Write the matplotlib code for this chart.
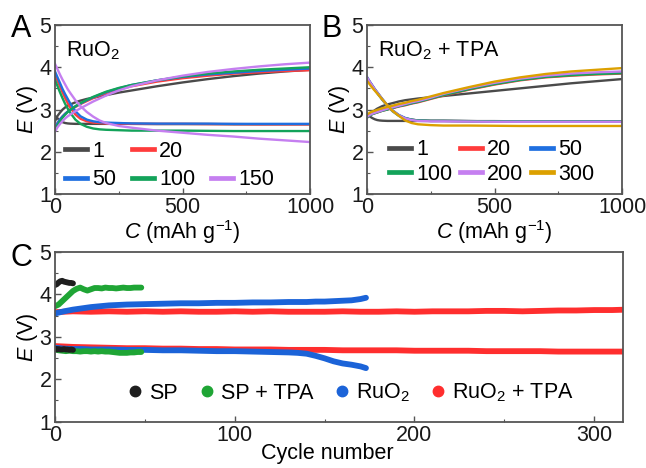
import matplotlib
matplotlib.use("Agg")
import matplotlib.pyplot as plt
from matplotlib.lines import Line2D
from matplotlib.ticker import MultipleLocator

plt.rcParams['font.family'] = ['Liberation Sans', 'DejaVu Sans']
plt.rcParams['mathtext.fontset'] = 'custom'
plt.rcParams['mathtext.rm'] = 'Liberation Sans'
plt.rcParams['mathtext.it'] = 'Liberation Sans:italic'

# ---------------- data ----------------
cap = [0, 10, 20, 30, 40, 50, 60, 80, 100, 125, 150, 175, 200, 250, 300, 400, 500, 600, 700, 800, 900, 1000]

# Panel A (RuO2): discharge and charge curves per cycle
A_labels = ['1', '20', '50', '100', '150']
A_dis = {
    '1':   [2.85, 2.79, 2.74, 2.70, 2.68, 2.67, 2.665, 2.66, 2.66, 2.66, 2.66, 2.66, 2.66, 2.66, 2.66, 2.655, 2.655, 2.655, 2.65, 2.65, 2.65, 2.65],
    '20':  [3.82, 3.68, 3.54, 3.40, 3.27, 3.15, 3.04, 2.88, 2.78, 2.72, 2.69, 2.68, 2.67, 2.665, 2.66, 2.66, 2.66, 2.655, 2.655, 2.65, 2.65, 2.65],
    '50':  [3.90, 3.76, 3.62, 3.48, 3.36, 3.25, 3.14, 2.96, 2.84, 2.76, 2.72, 2.70, 2.69, 2.68, 2.67, 2.665, 2.665, 2.665, 2.66, 2.66, 2.66, 2.66],
    '100': [3.70, 3.55, 3.40, 3.26, 3.13, 3.02, 2.92, 2.76, 2.66, 2.59, 2.55, 2.53, 2.52, 2.51, 2.50, 2.50, 2.50, 2.495, 2.49, 2.49, 2.49, 2.49],
    '150': [4.08, 3.95, 3.82, 3.70, 3.59, 3.48, 3.39, 3.22, 3.08, 2.94, 2.83, 2.74, 2.68, 2.61, 2.57, 2.50, 2.45, 2.40, 2.36, 2.31, 2.27, 2.23],
}
A_chg = {
    '1':   [2.72, 2.85, 2.93, 3.00, 3.05, 3.09, 3.12, 3.17, 3.21, 3.25, 3.28, 3.31, 3.34, 3.40, 3.45, 3.55, 3.64, 3.72, 3.79, 3.85, 3.90, 3.94],
    '20':  [2.55, 2.68, 2.77, 2.84, 2.90, 2.95, 2.99, 3.06, 3.13, 3.20, 3.27, 3.33, 3.39, 3.48, 3.55, 3.66, 3.74, 3.80, 3.85, 3.88, 3.91, 3.93],
    '50':  [2.55, 2.68, 2.77, 2.84, 2.90, 2.95, 2.99, 3.07, 3.14, 3.22, 3.29, 3.35, 3.41, 3.50, 3.58, 3.69, 3.77, 3.83, 3.87, 3.91, 3.94, 3.97],
    '100': [2.50, 2.63, 2.73, 2.81, 2.88, 2.94, 2.99, 3.08, 3.15, 3.23, 3.30, 3.36, 3.42, 3.51, 3.58, 3.69, 3.78, 3.85, 3.90, 3.94, 3.97, 4.00],
    '150': [2.48, 2.58, 2.66, 2.73, 2.79, 2.84, 2.88, 2.96, 3.03, 3.11, 3.19, 3.26, 3.33, 3.45, 3.55, 3.69, 3.80, 3.89, 3.96, 4.02, 4.07, 4.11],
}

# Panel B (RuO2 + TPA)
B_labels = ['1', '20', '50', '100', '200', '300']
B_dis = {
    '1':   [2.90, 2.84, 2.80, 2.77, 2.75, 2.74, 2.735, 2.73, 2.73, 2.73, 2.73, 2.73, 2.73, 2.73, 2.73, 2.725, 2.725, 2.72, 2.72, 2.72, 2.72, 2.72],
    '20':  [3.76, 3.66, 3.57, 3.48, 3.40, 3.32, 3.24, 3.09, 2.97, 2.86, 2.79, 2.76, 2.74, 2.73, 2.73, 2.725, 2.72, 2.72, 2.72, 2.72, 2.72, 2.72],
    '50':  [3.77, 3.67, 3.58, 3.49, 3.41, 3.33, 3.25, 3.10, 2.98, 2.87, 2.80, 2.76, 2.74, 2.73, 2.73, 2.725, 2.72, 2.72, 2.72, 2.72, 2.72, 2.72],
    '100': [3.75, 3.65, 3.56, 3.47, 3.39, 3.31, 3.23, 3.08, 2.96, 2.85, 2.79, 2.76, 2.74, 2.73, 2.73, 2.725, 2.72, 2.72, 2.72, 2.72, 2.72, 2.72],
    '200': [3.76, 3.66, 3.57, 3.48, 3.40, 3.32, 3.24, 3.09, 2.97, 2.86, 2.79, 2.75, 2.73, 2.72, 2.72, 2.715, 2.71, 2.71, 2.71, 2.71, 2.71, 2.71],
    '300': [3.68, 3.60, 3.52, 3.45, 3.38, 3.31, 3.24, 3.10, 2.97, 2.85, 2.74, 2.68, 2.65, 2.63, 2.62, 2.62, 2.615, 2.61, 2.61, 2.61, 2.61, 2.61],
}
B_chg = {
    '1':   [2.80, 2.88, 2.94, 2.98, 3.02, 3.05, 3.08, 3.12, 3.15, 3.19, 3.22, 3.24, 3.26, 3.29, 3.32, 3.38, 3.44, 3.50, 3.56, 3.62, 3.67, 3.72],
    '20':  [2.82, 2.86, 2.89, 2.91, 2.93, 2.95, 2.97, 3.00, 3.03, 3.07, 3.10, 3.14, 3.17, 3.25, 3.33, 3.47, 3.59, 3.69, 3.76, 3.80, 3.83, 3.85],
    '50':  [2.82, 2.86, 2.89, 2.92, 2.94, 2.96, 2.98, 3.01, 3.04, 3.08, 3.12, 3.15, 3.19, 3.27, 3.36, 3.50, 3.62, 3.71, 3.78, 3.83, 3.86, 3.88],
    '100': [2.82, 2.86, 2.89, 2.91, 2.93, 2.95, 2.97, 3.00, 3.04, 3.08, 3.11, 3.15, 3.18, 3.26, 3.34, 3.48, 3.60, 3.70, 3.77, 3.81, 3.84, 3.86],
    '200': [2.83, 2.87, 2.90, 2.92, 2.94, 2.96, 2.98, 3.02, 3.05, 3.09, 3.13, 3.17, 3.20, 3.28, 3.37, 3.51, 3.63, 3.73, 3.80, 3.85, 3.88, 3.90],
    '300': [2.88, 2.92, 2.95, 2.97, 2.99, 3.01, 3.03, 3.06, 3.09, 3.13, 3.16, 3.20, 3.23, 3.31, 3.39, 3.53, 3.66, 3.76, 3.84, 3.90, 3.94, 3.98],
}

# Panel C: terminal voltages vs cycle number
sp_cyc = [0, 1, 2, 3, 4, 5, 6, 7, 8, 9, 10]
sp_chg = [4.22, 4.24, 4.28, 4.31, 4.32, 4.30, 4.29, 4.28, 4.27, 4.27, 4.26]
sp_dis = [2.72, 2.70, 2.71, 2.70, 2.70, 2.71, 2.70, 2.70, 2.69, 2.70, 2.69]

sptpa_cyc = [0, 2, 4, 6, 8, 10, 12, 14, 16, 18, 20, 22, 24, 26, 28, 30, 32, 34, 36, 38, 40, 42, 44, 46, 48]
sptpa_chg = [3.72, 3.76, 3.84, 3.92, 4.00, 4.08, 4.13, 4.16, 4.12, 4.09, 4.12, 4.15, 4.15, 4.14, 4.16, 4.15, 4.15, 4.14, 4.15, 4.16, 4.15, 4.15, 4.16, 4.16, 4.16]
sptpa_dis = [2.70, 2.68, 2.67, 2.66, 2.67, 2.66, 2.66, 2.65, 2.66, 2.66, 2.65, 2.66, 2.65, 2.66, 2.65, 2.65, 2.64, 2.63, 2.62, 2.62, 2.62, 2.63, 2.63, 2.64, 2.64]

ru_cyc = [0, 5, 10, 15, 20, 25, 30, 40, 50, 60, 70, 80, 90, 100, 110, 120, 130, 135, 140, 145, 150, 155, 160, 165, 170, 173]
ru_chg = [3.55, 3.60, 3.64, 3.67, 3.70, 3.72, 3.74, 3.76, 3.77, 3.78, 3.79, 3.79, 3.80, 3.80, 3.81, 3.81, 3.82, 3.82, 3.82, 3.83, 3.83, 3.84, 3.85, 3.86, 3.89, 3.92]
ru_dis = [2.74, 2.72, 2.71, 2.71, 2.70, 2.70, 2.70, 2.69, 2.69, 2.68, 2.68, 2.67, 2.66, 2.66, 2.65, 2.64, 2.63, 2.62, 2.60, 2.55, 2.49, 2.42, 2.37, 2.34, 2.30, 2.26]

rutpa_cyc = [0, 10, 20, 30, 40, 50, 60, 70, 80, 90, 100, 110, 120, 130, 140, 150, 160, 170, 180, 190, 200, 210, 220, 230, 240, 250, 260, 270, 280, 290, 300, 310, 318]
rutpa_chg = [3.58, 3.60, 3.59, 3.60, 3.59, 3.60, 3.59, 3.60, 3.59, 3.59, 3.60, 3.59, 3.60, 3.59, 3.59, 3.59, 3.60, 3.59, 3.59, 3.60, 3.59, 3.60, 3.60, 3.60, 3.61, 3.61, 3.60, 3.61, 3.62, 3.62, 3.63, 3.63, 3.64]
rutpa_dis = [2.78, 2.76, 2.75, 2.74, 2.73, 2.73, 2.72, 2.72, 2.71, 2.71, 2.70, 2.70, 2.70, 2.69, 2.69, 2.69, 2.68, 2.68, 2.68, 2.68, 2.67, 2.67, 2.67, 2.67, 2.66, 2.66, 2.66, 2.66, 2.65, 2.65, 2.65, 2.65, 2.65]

# ---------------- styles ----------------
colA = {'1': '#4a4a4a', '20': '#ff3c3c', '50': '#1f6fe0', '100': '#13a35a', '150': '#c57ff0'}
colB = {'1': '#4a4a4a', '20': '#ff3c3c', '50': '#1f6fe0', '100': '#13a35a', '200': '#c57ff0', '300': '#dca000'}
SPINE = '#555555'
FS = 15.5

fig = plt.figure(figsize=(6.46, 4.68), dpi=100)

def style_axes(ax):
    for s in ax.spines.values():
        s.set_color(SPINE)
        s.set_linewidth(1.3)
    ax.tick_params(which='both', direction='in', colors=SPINE, labelcolor='#1a1a1a', labelsize=FS, pad=2.5)
    ax.tick_params(which='major', length=4, width=1)
    ax.tick_params(which='minor', length=2, width=0.8)
    ax.tick_params(top=False, right=False)

def panel_cap(ax, labels, dis, chg, cols):
    for lab in labels:
        ax.plot(cap, chg[lab], color=cols[lab], lw=1.7)
        ax.plot(cap, dis[lab], color=cols[lab], lw=1.7)
    ax.set_xlim(0, 1000)
    ax.set_ylim(1, 5)
    ax.set_xticks([0, 500, 1000])
    ax.set_yticks([1, 2, 3, 4, 5])
    ax.xaxis.set_minor_locator(MultipleLocator(250))
    ax.yaxis.set_minor_locator(MultipleLocator(0.5))
    style_axes(ax)
    ax.set_xlabel(r'$\mathit{C}$ (mAh g$^{-1}$)', fontsize=FS, labelpad=0)
    ax.set_ylabel(r'$\mathit{E}$ (V)', fontsize=FS, labelpad=0)

axA = fig.add_axes([55/646, 1-194/468, 255/646, 169/468])
panel_cap(axA, A_labels, A_dis, A_chg, colA)
axA.text(0.045, 0.915, r'RuO$_2$', transform=axA.transAxes, fontsize=FS, va='top', ha='left')
hA = {lab: Line2D([], [], color=colA[lab], lw=3.4) for lab in A_labels}
blank = Line2D([], [], color='none')
axA.legend([hA['1'], hA['50'], hA['20'], hA['100'], blank, hA['150']],
           ['1', '50', '20', '100', '', '150'], ncol=3, loc='center',
           bbox_to_anchor=(0.45, 0.17), frameon=False, fontsize=FS,
           handlelength=1.0, handletextpad=0.25, columnspacing=0.75, labelspacing=0.35,
           borderpad=0, borderaxespad=0)

axB = fig.add_axes([367/646, 1-194/468, 255/646, 169/468])
panel_cap(axB, B_labels, B_dis, B_chg, colB)
axB.text(0.045, 0.915, r'RuO$_2$ + TPA', transform=axB.transAxes, fontsize=FS, va='top', ha='left')
hB = {lab: Line2D([], [], color=colB[lab], lw=3.4) for lab in B_labels}
axB.legend([hB['1'], hB['100'], hB['20'], hB['200'], hB['50'], hB['300']],
           ['1', '100', '20', '200', '50', '300'], ncol=3, loc='center',
           bbox_to_anchor=(0.49, 0.19), frameon=False, fontsize=FS,
           handlelength=1.0, handletextpad=0.25, columnspacing=0.37, labelspacing=0.15,
           borderpad=0, borderaxespad=0)

axC = fig.add_axes([55/646, 1-421.5/468, 568/646, 169.5/468])
cC = {'SP': '#1e1e1e', 'SP + TPA': '#1fa535', 'RuO2': '#1b63d8', 'RuO2 + TPA': '#ff2e2e'}
LWC = 4.2
axC.plot(rutpa_cyc, rutpa_chg, color=cC['RuO2 + TPA'], lw=LWC, solid_capstyle='round')
axC.plot(rutpa_cyc, rutpa_dis, color=cC['RuO2 + TPA'], lw=LWC, solid_capstyle='round')
axC.plot(ru_cyc, ru_chg, color=cC['RuO2'], lw=LWC, solid_capstyle='round')
axC.plot(ru_cyc, ru_dis, color=cC['RuO2'], lw=LWC, solid_capstyle='round')
axC.plot(sptpa_cyc, sptpa_chg, color=cC['SP + TPA'], lw=LWC, solid_capstyle='round')
axC.plot(sptpa_cyc, sptpa_dis, color=cC['SP + TPA'], lw=LWC, solid_capstyle='round')
axC.plot(sp_cyc, sp_chg, color=cC['SP'], lw=LWC, solid_capstyle='round')
axC.plot(sp_cyc, sp_dis, color=cC['SP'], lw=LWC, solid_capstyle='round')
axC.set_xlim(0, 316)
axC.set_ylim(1, 5)
axC.set_xticks([0, 100, 200, 300])
axC.set_yticks([1, 2, 3, 4, 5])
axC.xaxis.set_minor_locator(MultipleLocator(50))
axC.yaxis.set_minor_locator(MultipleLocator(0.5))
style_axes(axC)
axC.set_xlabel('Cycle number', fontsize=FS)
axC.xaxis.set_label_coords(0.479, -0.125)
axC.set_ylabel(r'$\mathit{E}$ (V)', fontsize=FS, labelpad=0)
hC = [Line2D([], [], color=cC[k], marker='o', ls='none', ms=7.5) for k in cC]
axC.legend(hC, ['SP', 'SP + TPA', r'RuO$_2$', r'RuO$_2$ + TPA'], ncol=4, loc='center',
           bbox_to_anchor=(0.52, 0.168), frameon=False, fontsize=FS,
           handlelength=0.8, handletextpad=0.25, columnspacing=0.93,
           borderpad=0, borderaxespad=0)

fig.text(11/646, 1-14/468, 'A', fontsize=22, va='top', ha='left')
fig.text(322/646, 1-14/468, 'B', fontsize=22, va='top', ha='left')
fig.text(11/646, 1-243/468, 'C', fontsize=22, va='top', ha='left')

fig.savefig('out.png', dpi=100)
